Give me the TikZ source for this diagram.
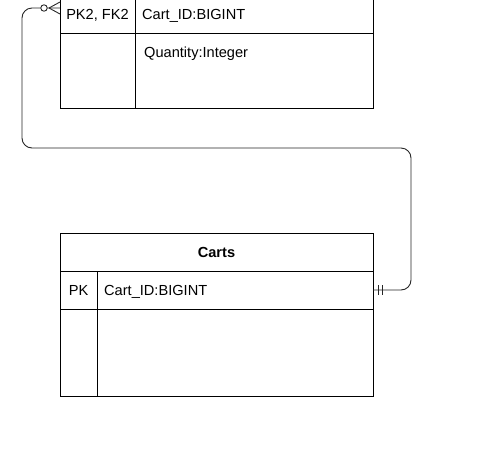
\documentclass[tikz,border=0pt]{standalone}
\usepackage{fontspec}
\setmainfont{Liberation Sans}
\begin{document}
\begin{tikzpicture}[x=1pt,y=-1pt,
  cell/.style={draw=black,line width=1pt,anchor=north west,inner sep=0pt,outer sep=0pt},
  lbl/.style={anchor=base west,inner sep=0pt,font=\fontsize{14.6}{17}\selectfont},
  clbl/.style={lbl,anchor=base},
  conn/.style={draw=black!85,line width=0.9pt,rounded corners=10pt},
  endmark/.style={draw=black!85,line width=0.9pt}]
\useasboundingbox (0,0) rectangle (482,456);
% top table (header is above the picture)
\node[cell,minimum width=75pt,minimum height=38pt] (topkey) at (60,-5) {};
\node[clbl] (topkeytxt) at (97.5,19) {PK2, FK2};
\node[cell,minimum width=238pt,minimum height=38pt] (topfield) at (135,-5) {};
\node[lbl] (topfieldtxt) at (142,19) {Cart\_ID:BIGINT};
\node[cell,minimum width=75pt,minimum height=75pt] (topbodykey) at (60,33) {};
\node[cell,minimum width=238pt,minimum height=75pt] (topbody) at (135,33) {};
\node[lbl] (qty) at (144,57.5) {Quantity:Integer};
% Carts table
\node[cell,minimum width=313pt,minimum height=38pt] (carthead) at (60,233) {};
\node[clbl,font=\fontsize{14.6}{17}\selectfont\bfseries] (cartheadtxt) at (216.5,257.5) {Carts};
\node[cell,minimum width=37pt,minimum height=38pt] (cartkey) at (60,271) {};
\node[clbl] (cartkeytxt) at (78.5,295.5) {PK};
\node[cell,minimum width=276pt,minimum height=38pt] (cartfield) at (97,271) {};
\node[lbl] (cartfieldtxt) at (104,295.5) {Cart\_ID:BIGINT};
\node[cell,minimum width=37pt,minimum height=87pt] (cartbodykey) at (60,309) {};
\node[cell,minimum width=276pt,minimum height=87pt] (cartbody) at (97,309) {};
% connector
\coordinate (c1) at ([yshift=6pt]topkey.west);
\draw[conn] (c1) -- (22,8) -- (22,148) -- (411,148) -- (411,290) -- (cartfield.east);
% zero-or-many end
\draw[endmark] (49,8) -- (60,2) (49,8) -- (60,14);
\draw[endmark,fill=white] (44,8) circle (3.2pt);
% one-and-only-one end
\draw[endmark] (378,285) -- (378,295) (382,285) -- (382,295);
\end{tikzpicture}
\end{document}
